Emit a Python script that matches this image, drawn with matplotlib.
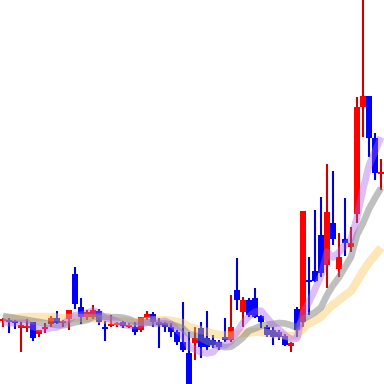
import matplotlib
matplotlib.use("Agg")
import matplotlib.pyplot as plt
import numpy as np

opens = [63, 64, 63, 56, 56, 62, 50, 55, 60, 66, 61, 65, 110, 77, 67, 67, 73, 57, 58, 59,
         62, 57, 57, 54, 66, 70, 62, 61, 57, 52, 42, 31, 41, 56, 46, 44, 42, 47, 44, 94,
         72, 84, 86, 68, 57, 54, 52, 48, 38, 75, 62, 104, 113, 149, 119, 161, 115, 145, 137, 170,
         277, 288, 246, 210]
highs = [66, 66, 64, 62, 65, 62, 54, 61, 68, 73, 64, 74, 117, 86, 74, 79, 75, 63, 69, 62,
         63, 61, 62, 67, 73, 72, 66, 62, 61, 54, 82, 52, 57, 62, 73, 49, 44, 66, 89, 126,
         87, 86, 96, 69, 59, 57, 54, 50, 42, 77, 173, 127, 174, 187, 220, 213, 151, 186, 157, 287,
         384, 288, 251, 225]
lows = [57, 51, 55, 32, 52, 43, 47, 51, 57, 60, 57, 54, 75, 60, 64, 65, 59, 43, 57, 57,
        56, 56, 49, 52, 64, 57, 36, 52, 47, 39, 32, 0, 24, 26, 34, 36, 34, 42, 42, 74,
        57, 67, 66, 56, 47, 39, 44, 38, 32, 47, 57, 69, 102, 107, 96, 139, 107, 128, 132, 161,
        247, 227, 204, 194]
closes = [65, 62, 61, 59, 58, 46, 54, 57, 66, 61, 63, 74, 80, 67, 72, 74, 62, 55, 60, 61,
          58, 59, 52, 67, 70, 62, 59, 57, 52, 42, 34, 0, 46, 37, 37, 39, 37, 44, 57, 84,
          84, 69, 67, 62, 49, 47, 47, 39, 41, 54, 173, 102, 103, 111, 172, 145, 127, 141, 141, 277,
          288, 246, 211, 212]

ma_short = [62, 61, 61, 61, 61, 57.2, 55.6, 54.8, 56.2, 56.8, 60.2, 64.2, 68.8, 69, 71.2, 73.4,
            71, 66, 64.6, 62.4, 59.2, 58.6, 58, 59.4, 61.2, 62, 62, 63, 60, 54.4, 48.8, 37,
            34.8, 31.8, 30.8, 31.8, 39.2, 38.8, 42.8, 52.2, 61.2, 67.6, 72.2, 73.2, 66.2, 58.8,
            54.4, 48.8, 44.6, 45.6, 70.8, 81.8, 94.6, 108.6, 132.2, 126.6, 131.6, 139.2, 145.2,
            166.2, 194.8, 218.6, 232.6, 246.8]
ma_mid = [68, 67, 66, 65, 64, 63, 62, 61, 60, 58.9, 58.7, 59.9, 61.8, 62.6, 64, 66.8, 67.6,
          67.4, 66.8, 66.8, 66.3, 64.8, 62, 62, 61.8, 60.6, 60.3, 60.5, 59.7, 57.8, 55.4, 49.5,
          48.9, 45.9, 42.6, 40.3, 38.1, 36.8, 37.3, 41.5, 46.5, 53.4, 55.5, 58, 59.2, 60, 61,
          60.5, 58.9, 55.9, 64.8, 68.1, 71.7, 76.6, 88.9, 98.7, 106.7, 116.9, 126.9, 149.2,
          160.7, 175.1, 185.9, 196]
ma_long = [65, 65.5, 66, 66.5, 67, 67, 67, 67, 67, 66.5, 66, 66, 66, 66, 66, 65.5, 65, 64.5,
           64, 62.8, 62.5, 62.3, 61.9, 62.3, 62.9, 63.7, 63.9, 63.9, 63.2, 62.3, 60.8, 57.1,
           55.4, 53.9, 52.2, 50.4, 49.2, 48.6, 48.5, 49.6, 50.9, 51.4, 52.2, 51.9, 50.9, 50.1,
           49.5, 48.6, 48.1, 48.7, 55.6, 60.7, 63.6, 67.3, 74, 79.3, 83.8, 88.7, 92.9, 102.5,
           112.7, 121.6, 128.8, 136.3]

o = np.array(opens, float)
h = np.array(highs, float)
l = np.array(lows, float)
c = np.array(closes, float)
x = np.arange(len(o))
up = c >= o

fig = plt.figure(figsize=(3.84, 3.84), dpi=100)
ax = fig.add_axes([0, 0, 1, 1])
ax.set_axis_off()

wick_col = np.where(up, '#cc0000', '#0000dd')
body_col = np.where(up, '#ff0000', '#0000ff')
ax.vlines(x, l, h, colors=wick_col, linewidth=1.5, zorder=2)
bot = np.minimum(o, c)
hgt = np.maximum(np.abs(c - o), 1.5)
ax.bar(x, hgt, bottom=bot, width=0.85, color=body_col, linewidth=0, zorder=3)

ax.plot(x, ma_long, color='#fbc860', alpha=0.45, linewidth=6, zorder=4, solid_capstyle='butt')
ax.plot(x, ma_mid, color='#808080', alpha=0.5, linewidth=4.8, zorder=5, solid_capstyle='butt')
ax.plot(x, ma_short, color='#a860f0', alpha=0.4, linewidth=5, zorder=6, solid_capstyle='butt')

ax.set_xlim(-0.5, len(o) - 0.5)
ax.set_ylim(min(lows), max(highs))
fig.savefig('out.png', dpi=100)
